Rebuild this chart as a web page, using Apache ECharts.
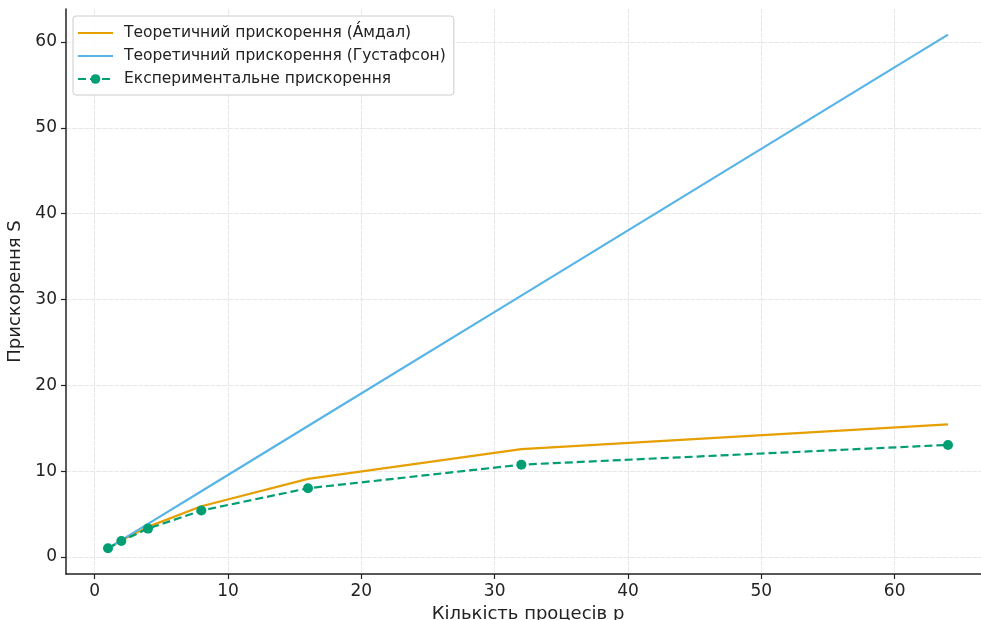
<!DOCTYPE html>
<html><head><meta charset="utf-8">
<script src="https://cdn.jsdelivr.net/npm/echarts@6/dist/echarts.min.js"></script>
<style>html,body{margin:0;padding:0;background:#fff}#c{width:981px;height:620px}</style>
</head><body><div id="c"></div>
<script>
const processes = [1, 2, 4, 8, 16, 32, 64];
const amdahl = [1, 1.9, 3.5, 5.9, 9.1, 12.55, 15.45];
const gustafson = [1, 1.95, 3.85, 7.65, 15.25, 30.45, 60.85];
const experimental = [1, 1.85, 3.3, 5.4, 8.0, 10.75, 13.05];
const xTicks = [0, 10, 20, 30, 40, 50, 60];
const yTicks = [0, 10, 20, 30, 40, 50, 60];
const names = ['Теоретичний прискорення (А́мдал)', 'Теоретичний прискорення (Густафсон)', 'Експериментальне прискорення'];

const pair = arr => processes.map((p, i) => [p, arr[i]]);
const font = 'DejaVu Sans';
const lineIcon = 'path://M0,0L35,0L35,2.2L0,2.2Z';
const chart = echarts.init(document.getElementById('c'), null, {renderer: 'canvas'});
chart.setOption({
  animation: false,
  backgroundColor: '#fff',
  textStyle: {fontFamily: font},
  grid: {left: 66, top: 9, bottom: 46, width: 924, containLabel: false, outerBoundsMode: 'none'},
  legend: {
    orient: 'vertical', left: 73, top: 16, padding: [9, 8, 8, 4],
    itemWidth: 35, itemHeight: 12, itemGap: 7,
    backgroundColor: 'rgba(255,255,255,0.85)', borderColor: '#ccc', borderWidth: 1, borderRadius: 3,
    textStyle: {fontFamily: font, fontSize: 15.5, color: '#222', padding: [0, 0, 0, 6]},
    data: [
      {name: names[0], icon: lineIcon},
      {name: names[1], icon: lineIcon},
      {name: names[2]}
    ]
  },
  xAxis: {
    type: 'value', min: -2.15, max: 67.15, interval: 10,
    name: 'Кількість процесів p', nameLocation: 'middle', nameGap: 24,
    nameTextStyle: {fontFamily: font, fontSize: 18, color: '#222'},
    axisLine: {onZero: false, lineStyle: {color: '#222', width: 1.5}},
    axisTick: {show: true, length: 5, lineStyle: {color: '#222', width: 1.2},
      customValues: xTicks},
    axisLabel: {fontFamily: font, fontSize: 17, color: '#222', margin: 9,
      customValues: xTicks},
    splitLine: {show: true, lineStyle: {color: '#e8e8e8', type: [5, 1], width: 1}}
  },
  yAxis: {
    type: 'value', min: -1.99, max: 63.84, interval: 10,
    name: 'Прискорення S', nameLocation: 'middle', nameGap: 40, nameRotate: 90,
    nameTextStyle: {fontFamily: font, fontSize: 18, color: '#222'},
    axisLine: {show: true, onZero: false, lineStyle: {color: '#222', width: 1.5}},
    axisTick: {show: true, length: 5, lineStyle: {color: '#222', width: 1.2},
      customValues: yTicks},
    axisLabel: {fontFamily: font, fontSize: 17, color: '#222', margin: 9,
      customValues: yTicks},
    splitLine: {show: true, lineStyle: {color: '#e8e8e8', type: [5, 1], width: 1}}
  },
  series: [
    {name: names[0], type: 'line', data: pair(amdahl), showSymbol: false, symbol: 'none',
      lineStyle: {color: '#E69F00', width: 2.2}, itemStyle: {color: '#E69F00'}},
    {name: names[1], type: 'line', data: pair(gustafson), showSymbol: false, symbol: 'none',
      lineStyle: {color: '#56B4E9', width: 2.2}, itemStyle: {color: '#56B4E9'}},
    {name: names[2], type: 'line', data: pair(experimental), symbol: 'circle', symbolSize: 10,
      lineStyle: {color: '#009E73', width: 2.2, type: [8, 4]}, itemStyle: {color: '#009E73'}}
  ]
});
</script></body></html>
